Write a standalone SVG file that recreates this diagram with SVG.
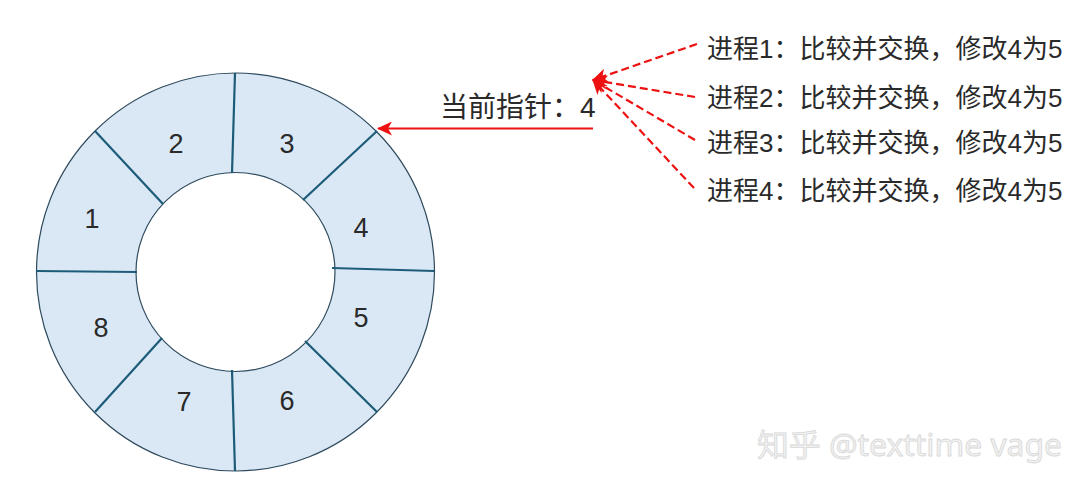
<svg xmlns="http://www.w3.org/2000/svg" width="1090" height="494" viewBox="0 0 1090 494">
<defs>
<style>
.ring{fill:#dae8f6;stroke:#2e4a5c;stroke-width:1.2}
.div{stroke:#1d5c78;stroke-width:2.2;fill:none}
.num{font-family:"Liberation Sans",Arial,sans-serif;font-size:27px;fill:#2a2a2a;text-anchor:middle}
.lbl{font-family:"Liberation Sans","Noto Sans CJK SC",sans-serif;fill:#2a2a2a}
.red{stroke:#ee1111;stroke-width:2;fill:none}
.dash{stroke:#ee1111;stroke-width:2.2;fill:none;stroke-dasharray:8 4}
.wm{font-family:"Noto Sans","Noto Sans CJK SC",sans-serif;font-size:31px;fill:#f2f2f2;stroke:#d8d8d8;stroke-width:0.8}
</style>
<marker id="ah" markerWidth="16" markerHeight="14" refX="14" refY="7" orient="auto" markerUnits="userSpaceOnUse">
<path d="M0,0 L15,7 L0,14 L4,7 Z" fill="#ee1111"/>
</marker>
</defs>
<rect width="1090" height="494" fill="#ffffff"/>
<g id="ring">
<path class="ring" fill-rule="evenodd" d="M235.5,73 A199,199 0 1 1 235.5,471 A199,199 0 1 1 235.5,73 Z M235.5,172.5 A99.5,99.5 0 1 0 235.5,371.5 A99.5,99.5 0 1 0 235.5,172.5 Z"/>
<line class="div" x1="235" y1="73" x2="232" y2="173"/>
<line class="div" x1="377" y1="131" x2="303" y2="200"/>
<line class="div" x1="332" y1="268" x2="434" y2="271"/>
<line class="div" x1="305" y1="341" x2="377" y2="412"/>
<line class="div" x1="232" y1="370" x2="235" y2="471"/>
<line class="div" x1="162" y1="338" x2="95" y2="412"/>
<line class="div" x1="36" y1="271" x2="137" y2="272"/>
<line class="div" x1="95" y1="131" x2="163" y2="204"/>
</g>
<g id="slot-labels">
<text class="num" x="176" y="153">2</text>
<text class="num" x="287" y="153">3</text>
<text class="num" x="92" y="228">1</text>
<text class="num" x="361" y="237">4</text>
<text class="num" x="361" y="327">5</text>
<text class="num" x="101" y="337">8</text>
<text class="num" x="184" y="411">7</text>
<text class="num" x="287" y="410">6</text>
</g>
<g id="pointer-label">
<text class="lbl" x="440" y="117" font-size="28">当前指针：4</text>
</g>
<g id="processes" class="lbl" font-size="26">
<text id="p1" x="707" y="58">进程1：比较并交换，修改4为5</text>
<text id="p2" x="707" y="107">进程2：比较并交换，修改4为5</text>
<text id="p3" x="707" y="152">进程3：比较并交换，修改4为5</text>
<text id="p4" x="707" y="200">进程4：比较并交换，修改4为5</text>
</g>
<g id="connectors">
<line class="red" x1="593" y1="128.5" x2="378" y2="128.5" marker-end="url(#ah)"/>
<line class="dash" x1="697" y1="44" x2="593" y2="80" marker-end="url(#ah)"/>
<line class="dash" x1="695" y1="97" x2="593" y2="80" marker-end="url(#ah)"/>
<line class="dash" x1="695" y1="140" x2="593" y2="80" marker-end="url(#ah)"/>
<line class="dash" x1="694" y1="188" x2="593" y2="80" marker-end="url(#ah)"/>
</g>
<g id="watermark">
<text class="wm" x="757" y="456" textLength="305" lengthAdjust="spacingAndGlyphs">知乎 @texttime vage</text>
</g>
</svg>
